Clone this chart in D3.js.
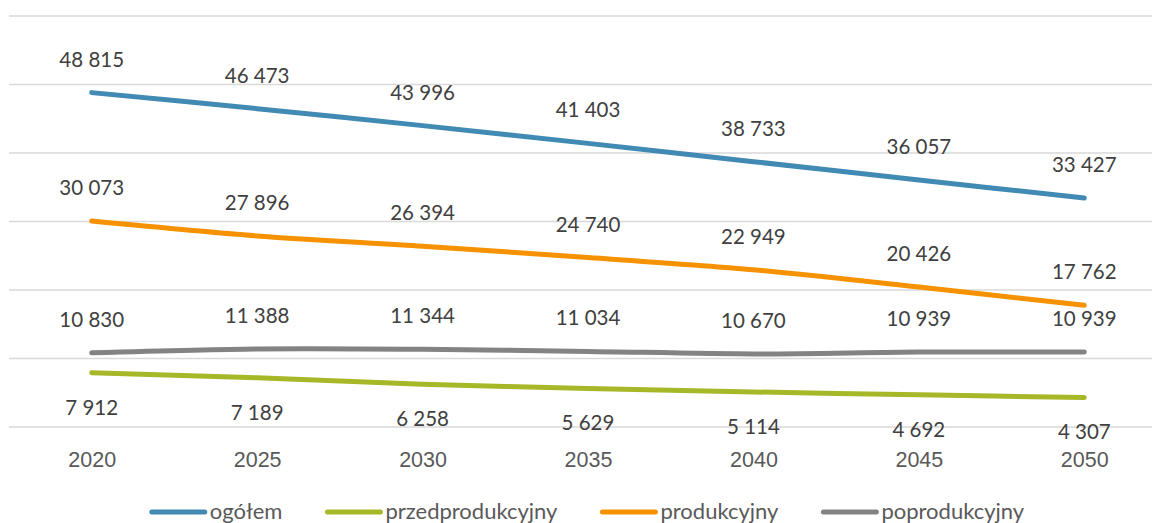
<!DOCTYPE html>
<html lang="pl">
<head>
<meta charset="UTF-8">
<title>Ludność 2020-2050</title>
<script src="https://cdn.jsdelivr.net/npm/d3@7"></script>
<style>
  body { margin: 0; background: #fff; }
  svg { display: block; font-family: Lato, "Open Sans", sans-serif; }
  .label { font-size: 20.5px; fill: #404040; text-anchor: middle; }
  .axis text { font-size: 21.5px; fill: #595959; }
  .legend text { font-size: 22px; fill: #595959; }
</style>
</head>
<body>
<svg width="1152" height="523"></svg>
<script>
var years = ["2020", "2025", "2030", "2035", "2040", "2045", "2050"];
var ogolem = [48815, 46473, 43996, 41403, 38733, 36057, 33427];
var przedprodukcyjny = [7912, 7189, 6258, 5629, 5114, 4692, 4307];
var produkcyjny = [30073, 27896, 26394, 24740, 22949, 20426, 17762];
var poprodukcyjny = [10830, 11388, 11344, 11034, 10670, 10939, 10939];
var yTicks = [0, 10000, 20000, 30000, 40000, 50000, 60000];

var series = [
  { name: "ogółem", values: ogolem, color: "#418ab3", below: false },
  { name: "przedprodukcyjny", values: przedprodukcyjny, color: "#a6b727", below: true },
  { name: "produkcyjny", values: produkcyjny, color: "#f69200", below: false },
  { name: "poprodukcyjny", values: poprodukcyjny, color: "#838383", below: false }
];

var svg = d3.select("svg");
var pl = d3.formatLocale({ decimal: ",", thousands: " ", grouping: [3], currency: ["", " zł"] });
var fmt = pl.format(",d");

var x = d3.scalePoint().domain(years).range([9, 1167]).padding(0.5);
var y = d3.scaleLinear().domain([0, 60000]).range([427, 16]);

// gridlines
svg.append("g").selectAll("line")
  .data(yTicks)
  .enter().append("line")
  .attr("x1", 9).attr("x2", 1167)
  .attr("y1", function(d) { return y(d); })
  .attr("y2", function(d) { return y(d); })
  .attr("stroke", "#d9d9d9")
  .attr("stroke-width", 1.4);

// x axis labels
var xAxis = svg.append("g")
  .attr("class", "axis")
  .attr("transform", "translate(0," + y(0) + ")")
  .call(d3.axisBottom(x).tickSize(0).tickPadding(0));
xAxis.select(".domain").remove();
xAxis.selectAll("text").attr("y", 40).attr("dy", null).attr("font-family", null).attr("font-size", null);

var line = d3.line()
  .x(function(d, i) { return x(years[i]); })
  .y(function(d) { return y(d); })
  .curve(d3.curveCardinal.tension(0.2));

svg.append("g").selectAll("path")
  .data(series)
  .enter().append("path")
  .attr("d", function(s) { return line(s.values); })
  .attr("fill", "none")
  .attr("stroke", function(s) { return s.color; })
  .attr("stroke-width", 5)
  .attr("stroke-linecap", "round")
  .attr("stroke-linejoin", "round");

// data labels
series.forEach(function(s) {
  svg.append("g").selectAll("text")
    .data(s.values)
    .enter().append("text")
    .attr("class", "label")
    .attr("x", function(d, i) { return x(years[i]); })
    .attr("y", function(d) { return y(d) + (s.below ? 42 : -26); })
    .text(function(d) { return fmt(d); });
});

// legend
var legend = svg.append("g").attr("class", "legend");
var lx = 0;
series.forEach(function(s) {
  var item = legend.append("g").attr("transform", "translate(" + lx + ",0)");
  item.append("line")
    .attr("x1", 0).attr("x2", 53)
    .attr("y1", 0).attr("y2", 0)
    .attr("stroke", s.color)
    .attr("stroke-width", 5)
    .attr("stroke-linecap", "round");
  var t = item.append("text").attr("x", 58).attr("y", 7).text(s.name);
  lx += 58 + t.node().getComputedTextLength() + 45;
});
var legendW = lx - 45;
legend.attr("transform", "translate(" + (588 - legendW / 2) + ",512)");
</script>
</body>
</html>
